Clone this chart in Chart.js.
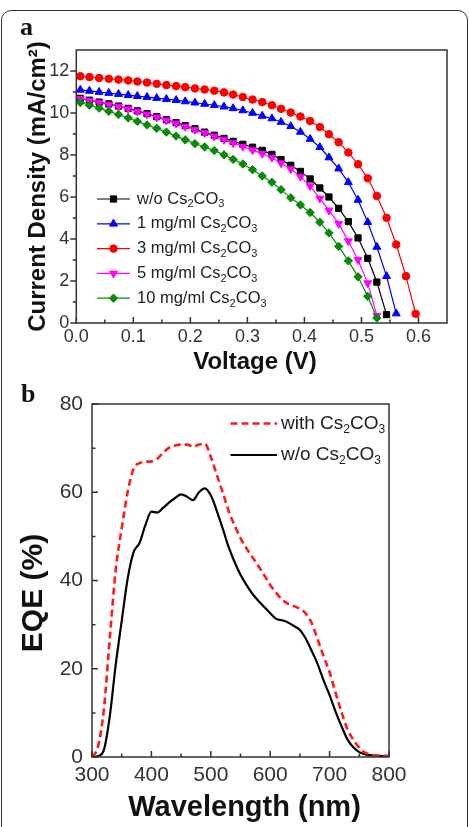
<!DOCTYPE html>
<html>
<head>
<meta charset="utf-8">
<title>J-V und EQE</title>
<script src="https://cdn.jsdelivr.net/npm/chart.js@4.4.1/dist/chart.umd.min.js"></script>
<style>
  html, body { margin: 0; padding: 0; background: #fff; }
  #page  { position: relative; width: 469px; height: 827px; overflow: hidden; }
  canvas { position: absolute; left: 0; }
  #chartA { top: 0; }
  #chartB { top: 380px; }
  .frame {
    position: absolute; left: 1px; top: 10px; width: 465px; height: 840px;
    border: 1px solid #333; border-radius: 10px; pointer-events: none;
  }
  .tag {
    position: absolute; line-height: 26px; color: #111;
    font: bold 26px 'Liberation Serif', 'Times New Roman', serif;
  }
</style>
</head>
<body>
<div id="page">
  <canvas id="chartA" width="469" height="380"></canvas>
  <canvas id="chartB" width="469" height="447"></canvas>
  <div class="tag" style="left:20px; top:12px;">a</div>
  <div class="tag" style="left:21px; top:379px;">b</div>
  <div class="frame"></div>
</div>

<script>
const FONT = "'Liberation Sans', Arial, sans-serif";

// ── Daten: (a) J-V-Kennlinien ───────────────────────────────────────────────
const voltage = [0.007, 0.023, 0.040, 0.057, 0.074, 0.091, 0.107, 0.124, 0.141, 0.158,
                 0.175, 0.191, 0.208, 0.225, 0.242, 0.259, 0.275, 0.292, 0.309, 0.326,
                 0.343, 0.359, 0.376, 0.393, 0.410, 0.427, 0.443, 0.460, 0.477, 0.494,
                 0.511, 0.527, 0.544, 0.561, 0.578, 0.595];

const jNoCs  = [10.70, 10.61, 10.52, 10.43, 10.33, 10.22, 10.10, 9.97, 9.83, 9.68,
                9.54, 9.40, 9.25, 9.09, 8.94, 8.79, 8.65, 8.51, 8.37, 8.22,
                8.03, 7.78, 7.51, 7.22, 6.86, 6.43, 6.00, 5.46, 4.83, 4.05,
                3.08, 1.95, 0.40];
const j1mg   = [11.10, 11.05, 11.00, 10.95, 10.90, 10.85, 10.80, 10.76, 10.71, 10.66,
                10.61, 10.55, 10.49, 10.43, 10.37, 10.30, 10.22, 10.12, 10.00, 9.86,
                9.74, 9.57, 9.37, 9.10, 8.76, 8.37, 7.88, 7.35, 6.70, 5.86,
                4.80, 3.62, 2.23, 0.45];
const j3mg   = [11.75, 11.71, 11.67, 11.63, 11.59, 11.55, 11.50, 11.45, 11.39, 11.33,
                11.28, 11.23, 11.17, 11.12, 11.06, 10.98, 10.88, 10.76, 10.64, 10.52,
                10.37, 10.20, 10.02, 9.83, 9.62, 9.33, 8.99, 8.61, 8.12, 7.56,
                6.89, 6.05, 5.01, 3.74, 2.23, 0.44];
const j5mg   = [10.68, 10.59, 10.50, 10.40, 10.30, 10.19, 10.07, 9.94, 9.80, 9.65,
                9.50, 9.35, 9.20, 9.05, 8.89, 8.73, 8.57, 8.40, 8.23, 8.06,
                7.88, 7.61, 7.33, 6.97, 6.52, 5.93, 5.36, 4.73, 3.90, 3.00,
                1.90, 0.35];
const j10mg  = [10.50, 10.37, 10.23, 10.08, 9.93, 9.77, 9.60, 9.43, 9.27, 9.09,
                8.90, 8.72, 8.54, 8.38, 8.21, 8.01, 7.79, 7.57, 7.30, 7.00,
                6.70, 6.35, 5.96, 5.62, 5.26, 4.80, 4.29, 3.65, 2.96, 2.20,
                1.27, 0.24];

const jvLabels     = ['w/o Cs_2CO_3', '1 mg/ml Cs_2CO_3', '3 mg/ml Cs_2CO_3',
                      '5 mg/ml Cs_2CO_3', '10 mg/ml Cs_2CO_3'];
const voltTicks    = [0, 0.1, 0.2, 0.3, 0.4, 0.5, 0.6];
const voltMinor    = [0.05, 0.15, 0.25, 0.35, 0.45, 0.55];
const currentTicks = [0, 2, 4, 6, 8, 10, 12];
const currentMinor = [1, 3, 5, 7, 9, 11];

// ── Daten: (b) EQE-Spektren ─────────────────────────────────────────────────
const wavelength = [300, 310, 320, 330, 340, 350, 360, 370, 380, 390,
                    400, 410, 420, 430, 440, 450, 460, 470, 480, 490,
                    500, 510, 520, 530, 540, 550, 560, 570, 580, 590,
                    600, 610, 620, 630, 640, 650, 660, 670, 680, 690,
                    700, 710, 720, 730, 740, 750, 760, 770, 780, 790, 800];
const eqeWith    = [0.0, 2.3, 10.8, 27.0, 42.5, 51.8, 60.0, 65.3, 66.6, 66.9,
                    67.0, 67.6, 69.0, 70.1, 70.6, 70.8, 70.8, 70.3, 70.8, 71.0,
                    68.0, 64.0, 60.0, 55.8, 52.5, 49.6, 47.3, 45.3, 43.3, 41.2,
                    39.0, 37.2, 35.7, 34.7, 34.2, 33.6, 32.5, 30.3, 26.6, 22.8,
                    19.2, 14.6, 10.2, 6.3, 3.9, 2.1, 1.0, 0.5, 0.3, 0.3, 0.3];
const eqeWithout = [0.0, 0.2, 1.6, 9.3, 21.0, 30.8, 40.4, 46.4, 48.5, 52.6,
                    55.6, 55.4, 56.5, 57.7, 58.7, 59.5, 59.0, 58.2, 60.0, 60.9,
                    59.3, 55.8, 51.8, 47.6, 44.2, 41.3, 39.0, 37.0, 35.4, 34.0,
                    32.6, 31.3, 31.0, 30.5, 29.7, 28.8, 26.8, 24.0, 21.0, 17.3,
                    14.0, 10.3, 7.0, 4.0, 2.2, 1.1, 0.6, 0.4, 0.3, 0.2, 0.2];

const eqeLabels = ['with Cs_2CO_3', 'w/o Cs_2CO_3'];
const wlTicks   = [300, 400, 500, 600, 700, 800];
const wlMinor   = [350, 450, 550, 650, 750];
const eqeTicks  = [0, 20, 40, 60, 80];
const eqeMinor  = [10, 30, 50, 70];

// ── Hilfsfunktionen ─────────────────────────────────────────────────────────

/** Text mit Tiefstellung: "_x" setzt das nächste Zeichen tief. */
function drawRich(ctx, text, x, y, size) {
  ctx.textAlign = 'left';
  ctx.textBaseline = 'middle';
  text.split(/(_.)/).forEach(part => {
    if (!part) return;
    const sub = part[0] === '_';
    const str = sub ? part.slice(1) : part;
    ctx.font = `${sub ? Math.round(size * 0.65) : size}px ${FONT}`;
    ctx.fillText(str, x, sub ? y + size * 0.32 : y);
    x += ctx.measureText(str).width;
  });
}

const pairs = (xs, ys) => ys.map((y, i) => ({ x: xs[i], y }));

/** Rahmen um die Plotfläche und Tick-Striche (innen oder außen). */
const frameTicks = {
  id: 'frameTicks',
  afterDatasetsDraw(chart, args, opts) {
    const { ctx, chartArea: a, scales } = chart;
    ctx.save();
    ctx.strokeStyle = '#333';
    ctx.lineWidth = 1.5;
    ctx.strokeRect(a.left, a.top, a.right - a.left, a.bottom - a.top);
    ctx.beginPath();
    Object.entries(opts.axes).forEach(([id, spec]) => {
      const s    = scales[id];
      const sign = spec.inward ? -1 : 1;
      const marks = [...spec.major.map(v => [v, 6]), ...spec.minor.map(v => [v, 3.5])];
      marks.forEach(([v, len]) => {
        const p = s.getPixelForValue(v);
        if (s.isHorizontal()) { ctx.moveTo(p, a.bottom); ctx.lineTo(p, a.bottom + sign * len); }
        else                  { ctx.moveTo(a.left, p);   ctx.lineTo(a.left - sign * len, p); }
      });
    });
    ctx.stroke();
    ctx.restore();
  },
};

/** Legende innerhalb der Plotfläche, mit Tiefstellung im Text. */
const richLegend = {
  id: 'richLegend',
  afterDraw(chart, args, opts) {
    const { ctx } = chart;
    ctx.save();
    opts.order.forEach((dsIndex, row) => {
      const ds = chart.data.datasets[dsIndex];
      const y  = opts.y + row * opts.rowGap;
      ctx.strokeStyle = ds.borderColor;
      ctx.fillStyle   = ds.borderColor;
      ctx.lineWidth   = ds.borderWidth;
      ctx.setLineDash(ds.borderDash || []);
      ctx.beginPath();
      ctx.moveTo(opts.x, y);
      ctx.lineTo(opts.x + opts.lineLen, y);
      ctx.stroke();
      ctx.setLineDash([]);
      if (ds.pointRadius) {
        ctx.lineWidth = 1;
        Chart.helpers.drawPoint(ctx, {
          pointStyle: ds.pointStyle, radius: ds.pointRadius,
          rotation: ds.pointRotation || 0, borderWidth: 1,
        }, opts.x + opts.lineLen / 2, y);
      }
      ctx.fillStyle = '#222';
      drawRich(ctx, ds.label, opts.x + opts.lineLen + opts.gap, y, opts.size);
    });
    ctx.restore();
  },
};

function jvSet(label, data, color, style, radius, extra = {}) {
  return {
    label, data: pairs(voltage, data),
    borderColor: color, backgroundColor: color, borderWidth: 1.2,
    pointStyle: style, pointRadius: radius, pointBorderWidth: 1,
    pointBackgroundColor: color, pointBorderColor: color, tension: 0, ...extra,
  };
}

const tickFont = size => ({ family: FONT, size });
const titleFont = size => ({ family: FONT, size, weight: 'bold' });

// ── (a) J-V ─────────────────────────────────────────────────────────────────
new Chart(document.getElementById('chartA'), {
  type: 'line',
  data: {
    datasets: [
      jvSet(jvLabels[0], jNoCs, '#000000', 'rect',     4.4, { order: 3 }),
      jvSet(jvLabels[1], j1mg,  '#0000ff', 'triangle', 4.6, { order: 2 }),
      jvSet(jvLabels[2], j3mg,  '#ff0000', 'circle',   3.8, { order: 1 }),
      jvSet(jvLabels[3], j5mg,  '#ff00ff', 'triangle', 4.6, { order: 2, pointRotation: 180 }),
      jvSet(jvLabels[4], j10mg, '#0a8a0a', 'rectRot',  4.2, { order: 1 }),
    ],
  },
  options: {
    responsive: false, animation: false, devicePixelRatio: 1,
    layout: { padding: { top: 50, right: 22, left: 0, bottom: 0 } },
    plugins: {
      legend: { display: false }, tooltip: { enabled: false },
      frameTicks: { axes: {
        x: { major: voltTicks, minor: voltMinor, inward: true },
        y: { major: currentTicks, minor: currentMinor, inward: false },
      } },
      richLegend: { order: [0, 1, 2, 3, 4], x: 97, y: 199, rowGap: 24.8, lineLen: 33, gap: 7, size: 16.5 },
    },
    scales: {
      x: {
        type: 'linear', min: 0, max: 0.65,
        afterFit: s => { s.height = 57; },
        afterBuildTicks: s => { s.ticks = voltTicks.map(v => ({ value: v })); },
        grid: { display: false, drawTicks: false }, border: { display: false },
        ticks: { padding: 3, color: '#333', font: tickFont(18), callback: v => v.toFixed(1) },
        // trailing spaces nudge the title slightly left, as in the original
        title: { display: true, text: 'Voltage (V)  ', color: '#111', font: titleFont(24), padding: { top: 0, bottom: 3.6 } },
      },
      y: {
        type: 'linear', min: 0, max: 13,
        afterFit: s => { s.width = 76.3; },
        afterBuildTicks: s => { s.ticks = currentTicks.map(v => ({ value: v })); },
        grid: { display: false, drawTicks: false }, border: { display: false },
        ticks: { padding: 7, color: '#333', font: tickFont(18) },
        title: { display: true, text: 'Current Density (mA/cm²)', color: '#111', font: titleFont(24), padding: { top: 23.6, bottom: 0 } },
      },
    },
  },
  plugins: [frameTicks, richLegend],
});

// ── (b) EQE ─────────────────────────────────────────────────────────────────
new Chart(document.getElementById('chartB'), {
  type: 'line',
  data: {
    datasets: [
      { label: eqeLabels[0], data: pairs(wavelength, eqeWith), borderColor: '#ff1a1a',
        borderWidth: 2.6, borderDash: [7, 4], pointRadius: 0, cubicInterpolationMode: 'monotone' },
      { label: eqeLabels[1], data: pairs(wavelength, eqeWithout), borderColor: '#000000',
        borderWidth: 2.2, pointRadius: 0, cubicInterpolationMode: 'monotone' },
    ],
  },
  options: {
    responsive: false, animation: false, devicePixelRatio: 1,
    layout: { padding: { top: 24, right: 80, left: 0, bottom: 0 } },
    plugins: {
      legend: { display: false }, tooltip: { enabled: false },
      frameTicks: { axes: {
        x: { major: wlTicks, minor: wlMinor, inward: true },
        y: { major: eqeTicks, minor: eqeMinor, inward: true },
      } },
      richLegend: { order: [0, 1], x: 230.5, y: 43.5, rowGap: 31.5, lineLen: 46.5, gap: 4, size: 19 },
    },
    scales: {
      x: {
        type: 'linear', min: 300, max: 800,
        afterFit: s => { s.height = 70; },
        afterBuildTicks: s => { s.ticks = wlTicks.map(v => ({ value: v })); },
        grid: { display: false, drawTicks: false }, border: { display: false },
        ticks: { padding: 5.5, color: '#333', font: tickFont(21) },
        title: { display: true, text: ' Wavelength (nm)', color: '#111', font: titleFont(29), padding: { top: 0, bottom: 1.6 } },
      },
      y: {
        type: 'linear', min: 0, max: 80,
        afterFit: s => { s.width = 92; },
        afterBuildTicks: s => { s.ticks = eqeTicks.map(v => ({ value: v })); },
        grid: { display: false, drawTicks: false }, border: { display: false },
        ticks: { padding: 9, color: '#333', font: tickFont(21) },
        // trailing spaces move the rotated title down a little
        title: { display: true, text: 'EQE (%)   ', color: '#111', font: titleFont(30), padding: { top: 16, bottom: 0 } },
      },
    },
  },
  plugins: [frameTicks, richLegend],
});
</script>
</body>
</html>
